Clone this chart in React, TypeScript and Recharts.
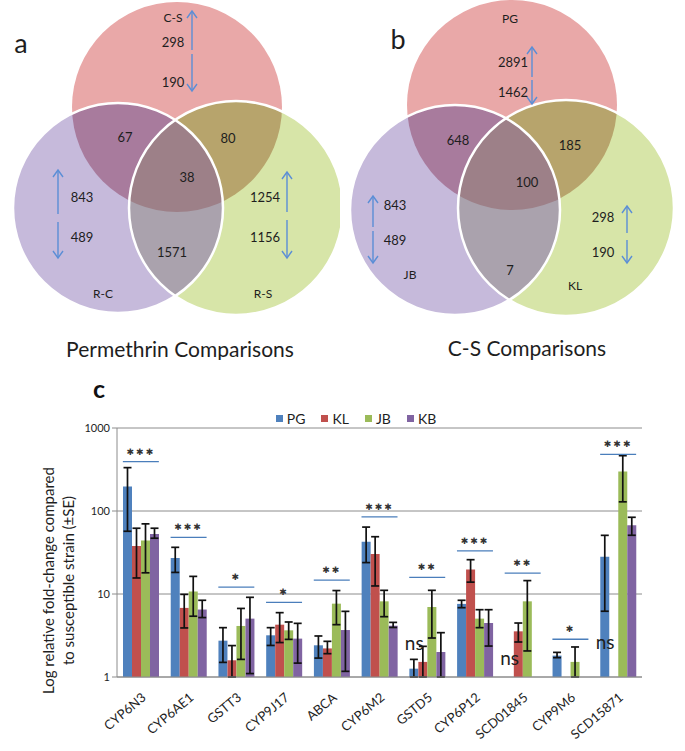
import React from "react";
import {
  ScatterChart,
  Scatter,
  ComposedChart,
  Bar,
  ErrorBar,
  XAxis,
  YAxis,
  CartesianGrid,
  Legend,
} from "recharts";

const FONT = 'Lato, "Open Sans", sans-serif';

// ---------- Venn panels (diagram units: 1 unit = 1 px of a 340 x 360 panel)
const VENN_W = 340;
const VENN_H = 360;

// circles: top, left, right
const vennACircles = [
  { x: 177, y: 107, r: 105 },
  { x: 118, y: 208, r: 105 },
  { x: 236, y: 208, r: 107 },
];
const vennASets = [
  { text: "C-S", x: 173, y: 17 },
  { text: "R-C", x: 103, y: 293 },
  { text: "R-S", x: 263, y: 293 },
];
const vennACounts = [
  { text: "298", x: 173, y: 42 },
  { text: "190", x: 173, y: 82 },
  { text: "67", x: 125, y: 137 },
  { text: "80", x: 228, y: 138 },
  { text: "38", x: 187, y: 177 },
  { text: "843", x: 82, y: 197 },
  { text: "489", x: 82, y: 237 },
  { text: "1254", x: 265, y: 197 },
  { text: "1156", x: 265, y: 237 },
  { text: "1571", x: 172, y: 252 },
];
const vennAArrows = [
  { x: 192, y: 50, tip: 11 },
  { x: 192, y: 54, tip: 91 },
  { x: 58, y: 214, tip: 170 },
  { x: 58, y: 222, tip: 258 },
  { x: 287, y: 212, tip: 172 },
  { x: 287, y: 220, tip: 258 },
];
const vennATitle = [{ text: "Permethrin Comparisons", x: 180, y: 348 }];
const vennALetter = [{ text: "a", x: 21, y: 42 }];

const vennBCircles = [
  { x: 172, y: 105, r: 105 },
  { x: 115, y: 210, r: 105 },
  { x: 226, y: 208, r: 108 },
];
const vennBSets = [
  { text: "PG", x: 170, y: 18 },
  { text: "JB", x: 70, y: 274 },
  { text: "KL", x: 235, y: 285 },
];
const vennBCounts = [
  { text: "2891", x: 173, y: 62 },
  { text: "1462", x: 173, y: 92 },
  { text: "648", x: 118, y: 140 },
  { text: "185", x: 230, y: 145 },
  { text: "100", x: 187, y: 182 },
  { text: "843", x: 55, y: 205 },
  { text: "489", x: 55, y: 240 },
  { text: "7", x: 170, y: 270 },
  { text: "298", x: 263, y: 217 },
  { text: "190", x: 263, y: 252 },
];
const vennBArrows = [
  { x: 192, y: 77, tip: 47 },
  { x: 192, y: 80, tip: 104 },
  { x: 33, y: 227, tip: 196 },
  { x: 33, y: 231, tip: 263 },
  { x: 287, y: 233, tip: 206 },
  { x: 287, y: 240, tip: 263 },
];
const vennBTitle = [{ text: "C-S Comparisons", x: 187, y: 347 }];
const vennBLetter = [{ text: "b", x: 58, y: 38 }];

const SET_FILLS = ["#e9a8a8", "#c6badb", "#d7e5a8"];
const TOP_LEFT_FILL = "#a87b9d";
const TOP_RIGHT_FILL = "#b7a46c";
const LEFT_RIGHT_FILL = "#aaa2ad";
const CENTER_FILL = "#9d8088";
const ARROW = "#5b8ed6";
const INK = "#1e1e1e";

type Circle = { x: number; y: number; r: number };
type TextItem = { text: string; x: number; y: number };
type Arrow = { x: number; y: number; tip: number };

const textShape = (size: number, weight = 400) => (p: any) => (
  <text
    x={p.cx}
    y={p.cy}
    textAnchor="middle"
    dominantBaseline="central"
    fontFamily={FONT}
    fontSize={size}
    fontWeight={weight}
    fill={INK}
  >
    {p.payload.text}
  </text>
);

const arrowShape = (p: any) => {
  const { cx, cy, payload } = p;
  const ty = cy + (payload.tip - payload.y);
  const d = ty < cy ? 1 : -1;
  return (
    <g stroke={ARROW} strokeWidth={1.4} fill="none">
      <line x1={cx} y1={cy} x2={cx} y2={ty} />
      <polyline points={`${cx - 5},${ty + d * 7} ${cx},${ty} ${cx + 5},${ty + d * 7}`} />
    </g>
  );
};

function VennPanel(props: {
  id: string;
  circles: Circle[];
  sets: TextItem[];
  counts: TextItem[];
  arrows: Arrow[];
  title: TextItem[];
  letter: TextItem[];
}) {
  const { id, circles, sets, counts, arrows, title, letter } = props;
  const base = circles.map((c, i) => ({ ...c, i, fill: SET_FILLS[i] }));
  const overlaps = [
    { ...circles[1], clips: [0], fill: TOP_LEFT_FILL },
    { ...circles[2], clips: [0], fill: TOP_RIGHT_FILL },
    { ...circles[2], clips: [1], fill: LEFT_RIGHT_FILL },
    { ...circles[2], clips: [0, 1], fill: CENTER_FILL },
  ];
  const outlines = circles.slice(1);

  const baseShape = (p: any) => (
    <g>
      <defs>
        <clipPath id={`${id}-c${p.payload.i}`}>
          <circle cx={p.cx} cy={p.cy} r={p.payload.r} />
        </clipPath>
      </defs>
      <circle cx={p.cx} cy={p.cy} r={p.payload.r} fill={p.payload.fill} />
    </g>
  );
  const overlapShape = (p: any) => {
    let el: React.ReactElement = (
      <circle cx={p.cx} cy={p.cy} r={p.payload.r} fill={p.payload.fill} />
    );
    p.payload.clips.forEach((ci: number) => {
      el = <g clipPath={`url(#${id}-c${ci})`}>{el}</g>;
    });
    return el;
  };
  const outlineShape = (p: any) => (
    <circle cx={p.cx} cy={p.cy} r={p.payload.r} fill="none" stroke="#ffffff" strokeWidth={2.5} />
  );

  return (
    <ScatterChart width={VENN_W} height={VENN_H} margin={{ top: 0, right: 0, bottom: 0, left: 0 }}>
      <XAxis type="number" dataKey="x" domain={[0, VENN_W]} hide />
      <YAxis type="number" dataKey="y" domain={[0, VENN_H]} reversed hide />
      <Scatter data={base} shape={baseShape} isAnimationActive={false} />
      <Scatter data={overlaps} shape={overlapShape} isAnimationActive={false} />
      <Scatter data={outlines} shape={outlineShape} isAnimationActive={false} />
      <Scatter data={arrows} shape={arrowShape} isAnimationActive={false} />
      <Scatter data={counts} shape={textShape(13)} isAnimationActive={false} />
      <Scatter data={sets} shape={textShape(12)} isAnimationActive={false} />
      <Scatter data={title} shape={textShape(21)} isAnimationActive={false} />
      <Scatter data={letter} shape={textShape(27)} isAnimationActive={false} />
    </ScatterChart>
  );
}

// ---------- panel c: qPCR fold change
const genes = ["CYP6N3", "CYP6AE1", "GSTT3", "CYP9J17", "ABCA", "CYP6M2", "GSTD5", "CYP6P12", "SCD01845", "CYP9M6", "SCD15871"];
const strains = ["PG", "KL", "JB", "KB"];
const strainColors = ["#4f81bd", "#c0504d", "#9bbb59", "#8064a2"];

const pgValues = [198, 27.2, 2.74, 3.18, 2.41, 42.7, 1.26, 7.6, 1, 1.81, 28.2];
const klValues = [38, 6.8, 1.59, 4.27, 2.21, 30.3, 1.52, 19.8, 3.55, 1, 1];
const jbValues = [44, 10.7, 4.12, 3.65, 7.65, 8.16, 6.97, 5.05, 8.16, 1.52, 300];
const kbValues = [53, 6.5, 5.05, 2.9, 3.68, 4.15, 2.0, 4.47, null, null, 67.2];

// [minus, plus] standard errors
const pgErrors = [[141, 135], [9, 9.3], [1.24, 1.19], [0.78, 0.75], [0.72, 0.71], [18.8, 21.3], [0.26, 0.37], [0.76, 0.8], [0, 0.22], [0.1, 0.17], [22, 22.7]];
const klErrors = [[22.4, 24], [2.9, 3.1], [0.59, 0.8], [1.67, 1.69], [0.3, 0.48], [17.8, 18.7], [0.52, 0.82], [5.9, 6.1], [0.91, 0.92], [0, 0.03], [0, 0.45]];
const jbErrors = [[26, 26], [5.3, 5.6], [2.49, 2.58], [0.81, 0.95], [3.38, 3.35], [2.83, 2.91], [4.02, 4.1], [1.12, 1.42], [6.1, 6.34], [0.52, 0.78], [171, 164]];
const kbErrors = [[6, 9], [1.3, 1.9], [3.95, 4.07], [1.43, 1.53], [2.51, 2.5], [0.2, 0.4], [1.0, 1.42], [2.11, 2.0], null, null, [16.2, 16.8]];

const sigMarks = ["***", "***", "*", "*", "**", "***", "**", "***", "**", "*", "***"];
const sigLevels = [393, 48, 12.1, 7.94, 14.7, 85, 15.9, 33, 17.8, 2.85, 482];
const nsLevels = [null, null, null, null, null, null, 2.57, null, 1.74, null, 2.66];

const yTicks = [1, 10, 100, 1000];

const rows = genes.map((gene, i) => ({
  gene,
  PG: pgValues[i],
  KL: klValues[i],
  JB: jbValues[i],
  KB: kbValues[i],
  PGerr: pgErrors[i],
  KLerr: klErrors[i],
  JBerr: jbErrors[i],
  KBerr: kbErrors[i],
  sig: sigMarks[i],
  sigY: sigLevels[i],
  nsY: nsLevels[i],
}));

const GeneTick = (p: any) => {
  const x = p.x + 6;
  const y = p.y + 14;
  return (
    <text
      x={x}
      y={y}
      transform={`rotate(-40 ${x} ${y})`}
      textAnchor="end"
      fontFamily={FONT}
      fontSize={13}
      fill={INK}
    >
      {p.payload.value}
    </text>
  );
};

const SigMark = (p: any) => {
  if (p.payload.sigY == null || !isFinite(p.cy)) return null;
  return (
    <g>
      <line x1={p.cx - 18} x2={p.cx + 18} y1={p.cy} y2={p.cy} stroke="#4a7ebb" strokeWidth={1.3} />
      <text
        x={p.cx}
        y={p.cy - 10}
        textAnchor="middle"
        dominantBaseline="central"
        fontFamily='"DejaVu Sans", sans-serif'
        fontSize={9}
        letterSpacing={2}
        fill="#333"
      >
        {p.payload.sig.replace(/\*/g, "\u2731")}
      </text>
    </g>
  );
};

const NsMark = (p: any) => {
  if (p.payload.nsY == null || !isFinite(p.cy)) return null;
  return (
    <text
      x={p.cx - 13}
      y={p.cy}
      textAnchor="middle"
      dominantBaseline="central"
      fontFamily={FONT}
      fontSize={19}
      fill={INK}
    >
      ns
    </text>
  );
};

const LegendBox = () => (
  <div
    style={{
      height: 20,
      display: "flex",
      justifyContent: "center",
      alignItems: "center",
      paddingLeft: 70,
      fontFamily: FONT,
      fontSize: 14,
      color: INK,
    }}
  >
    {strains.map((s, i) => (
      <span key={s} style={{ display: "flex", alignItems: "center", margin: "0 8px" }}>
        <span style={{ width: 7, height: 7, background: strainColors[i], marginRight: 4 }} />
        {s}
      </span>
    ))}
  </div>
);

const YLabel = (p: any) => {
  const vb = p.viewBox || { x: 0, y: 68, height: 249 };
  const cy = vb.y + vb.height / 2 + 28;
  return (
    <g fontFamily={FONT} fontSize={15} fill={INK} textAnchor="middle">
      <text x={48} y={cy} transform={`rotate(-90 48 ${cy})`} dominantBaseline="central">
        Log relative fold-change compared
      </text>
      <text x={68} y={cy} transform={`rotate(-90 68 ${cy})`} dominantBaseline="central">
        to susceptible strain (±SE)
      </text>
    </g>
  );
};

function FoldChangeChart() {
  return (
    <div style={{ position: "relative", width: 685, height: 391 }}>
      <div
        style={{
          position: "absolute",
          left: 93,
          top: 14,
          fontFamily: FONT,
          fontSize: 25,
          fontWeight: 700,
          color: "#111",
          lineHeight: "28px",
        }}
      >
        c
      </div>
      <ComposedChart
        width={685}
        height={391}
        data={rows}
        margin={{ top: 48, right: 43, bottom: 0, left: 0 }}
        barGap={0}
      >
        <CartesianGrid vertical={false} stroke="#8c8c8c" />
        <Legend verticalAlign="top" height={20} content={<LegendBox />} />
        <XAxis
          dataKey="gene"
          interval={0}
          height={74}
          tickLine={false}
          axisLine={{ stroke: "#8c8c8c" }}
          tick={<GeneTick />}
        />
        <YAxis
          scale="log"
          domain={[1, 1000]}
          ticks={yTicks}
          allowDataOverflow
          width={117}
          tickSize={5}
          tickLine={{ stroke: "#8c8c8c" }}
          axisLine={{ stroke: "#8c8c8c" }}
          tick={{ fontFamily: FONT, fontSize: 11, fill: INK }}
          label={{ content: <YLabel /> }}
        />
        {strains.map((s, i) => (
          <Bar key={s} dataKey={s} fill={strainColors[i]} barSize={9} isAnimationActive={false}>
            <ErrorBar
              dataKey={`${s}err`}
              width={4}
              strokeWidth={1.7}
              stroke="#111"
              direction="y"
              isAnimationActive={false}
            />
          </Bar>
        ))}
        <Scatter dataKey="sigY" shape={SigMark} isAnimationActive={false} />
        <Scatter dataKey="nsY" shape={NsMark} isAnimationActive={false} />
      </ComposedChart>
    </div>
  );
}

export default function App() {
  return (
    <div style={{ position: "absolute", left: 0, top: 0, width: 685, height: 751, background: "#fff" }}>
      <div style={{ position: "absolute", left: 0, top: 0 }}>
        <VennPanel
          id="va"
          circles={vennACircles}
          sets={vennASets}
          counts={vennACounts}
          arrows={vennAArrows}
          title={vennATitle}
          letter={vennALetter}
        />
      </div>
      <div style={{ position: "absolute", left: 340, top: 0 }}>
        <VennPanel
          id="vb"
          circles={vennBCircles}
          sets={vennBSets}
          counts={vennBCounts}
          arrows={vennBArrows}
          title={vennBTitle}
          letter={vennBLetter}
        />
      </div>
      <div style={{ position: "absolute", left: 0, top: 360 }}>
        <FoldChangeChart />
      </div>
    </div>
  );
}
